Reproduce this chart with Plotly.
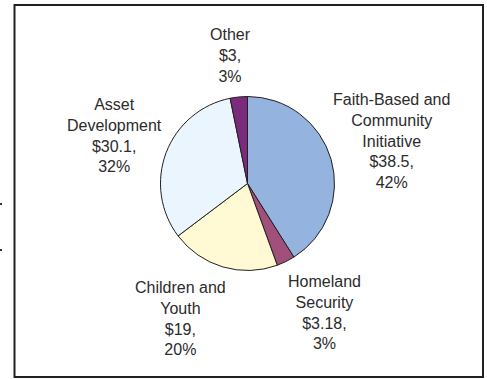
import plotly.graph_objects as go

# Budget categories and amounts ($ millions)
categories = ["Faith-Based and Community Initiative", "Homeland Security",
              "Children and Youth", "Asset Development", "Other"]
values = [38.5, 3.18, 19, 30.1, 3]
pct_labels = ["42%", "3%", "20%", "32%", "3%"]
label_lines = [["Faith-Based and", "Community", "Initiative"],
               ["Homeland", "Security"],
               ["Children and", "Youth"],
               ["Asset", "Development"],
               ["Other"]]
colors = ["#95b3df", "#a0507a", "#fffad4", "#eaf5fd", "#7b2b7b"]

W, H = 487, 379
cx, cy, r = 247.5, 183.5, 87

fig = go.Figure(go.Pie(
    labels=categories,
    values=values,
    sort=False,
    direction="clockwise",
    rotation=0,
    marker=dict(colors=colors, line=dict(color="#231f20", width=1)),
    textinfo="none",
    hoverinfo="label+value",
    showlegend=False,
    domain=dict(x=[(cx - r) / W, (cx + r) / W],
                y=[1 - (cy + r) / H, 1 - (cy - r) / H]),
))

# Outside label positions (pixel centres of each text block)
label_pos = [(391, 141), (324, 312), (180, 318), (114, 135), (230, 56)]
annotations = []
for lines, v, p, (lx, ly) in zip(label_lines, values, pct_labels, label_pos):
    text = "<br>".join(lines + [f"${v},", p])
    annotations.append(dict(
        x=lx / W, y=1 - ly / H, xref="paper", yref="paper",
        text=text, showarrow=False, align="center",
        xanchor="center", yanchor="middle",
        font=dict(family="Liberation Sans, Arial, sans-serif", size=16, color="#2b2b2b"),
    ))

shapes = [
    dict(type="rect", xref="paper", yref="paper",
         x0=14.5 / W, x1=483 / W, y0=1 - 377 / H, y1=1 - 5 / H,
         line=dict(color="#231f20", width=2), fillcolor="rgba(0,0,0,0)"),
    dict(type="rect", xref="paper", yref="paper",
         x0=0, x1=2 / W, y0=1 - 205 / H, y1=1 - 203 / H,
         line=dict(width=0), fillcolor="#333333"),
    dict(type="rect", xref="paper", yref="paper",
         x0=0, x1=2 / W, y0=1 - 251 / H, y1=1 - 249 / H,
         line=dict(width=0), fillcolor="#333333"),
]

fig.update_layout(
    width=W, height=H,
    margin=dict(l=0, r=0, t=0, b=0),
    paper_bgcolor="white",
    plot_bgcolor="white",
    annotations=annotations,
    shapes=shapes,
)

fig.write_html("out.html")
